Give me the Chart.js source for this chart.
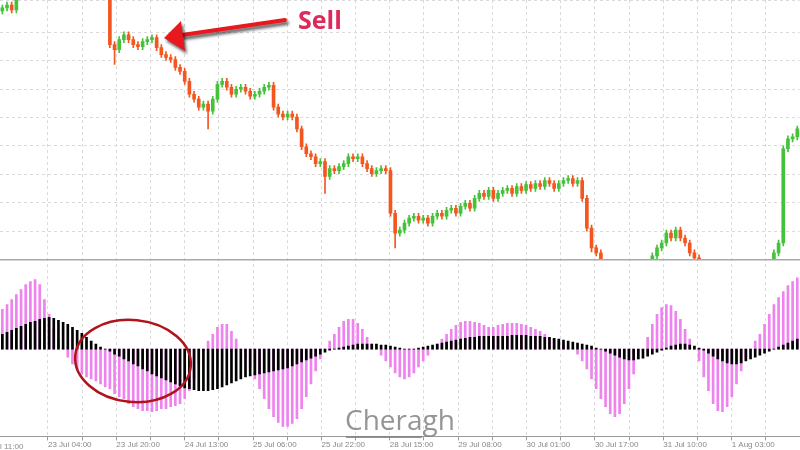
<!DOCTYPE html>
<html><head><meta charset="utf-8">
<script src="https://cdn.jsdelivr.net/npm/chart.js@4.4.1/dist/chart.umd.min.js"></script>
<style>html,body{margin:0;padding:0;background:#fff}#w{width:800px;height:450px}</style>
</head><body><div id="w"><canvas id="c"></canvas></div>
<script>
// close prices (arbitrary price units, higher = up)
const closeY = [8,5,10,-20,-30,-50,-60,-40,-50,-45,
-60,-55,-50,-40,-45,-35,-30,-40,-30,-25,
-20,-15,-5,45,50,40,35,40,45,47,
42,40,38,48,55,58,60,68,72,82,
95,100,108,105,112,100,85,82,88,95,
90,88,92,97,95,92,88,86,108,115,
118,115,118,130,148,155,158,165,163,178,
170,172,168,165,158,160,158,165,170,175,
172,170,172,215,235,232,225,220,218,222,
220,225,218,215,218,212,210,215,208,205,
210,200,195,198,192,200,195,192,190,195,
188,192,186,190,185,188,182,185,190,185,
182,180,185,182,200,230,250,255,280,300,
310,305,300,295,300,290,285,280,270,258,
250,245,235,240,232,240,245,255,260,280,
300,310,320,315,310,305,300,295,290,285,
280,275,272,270,265,255,245,150,140,138,130];
const closes = closeY.map(v => 262 - v);
// extra long lower wicks (candle index -> low price)
const longLows = {24:197, 44:132, 69:67, 84:12, 126:8, 127:4};
const histValues = [40,45,50,55,60,65,68,70,65,50,
35,20,10,0,-8,-15,-20,-25,-28,-30,
-32,-35,-38,-40,-45,-48,-50,-55,-58,-60,
-62,-62,-63,-62,-60,-60,-58,-57,-55,-50,
-42,-30,-15,-2,8,15,22,25,25,18,
10,0,-8,-18,-30,-40,-50,-60,-68,-74,
-78,-78,-75,-70,-60,-48,-35,-22,-10,0,
8,15,22,28,30,30,26,20,12,5,
0,-6,-12,-18,-24,-28,-30,-28,-24,-18,
-12,-6,0,5,10,15,20,24,27,28,
28,27,26,24,22,22,24,25,26,26,
26,25,24,22,20,18,15,12,10,8,
5,2,0,-5,-12,-20,-30,-40,-50,-58,
-65,-68,-65,-55,-40,-25,-10,0,12,25,
35,42,45,44,38,30,20,10,0,-12,
-28,-42,-55,-62,-63,-58,-48,-35,-22,-10,
0,8,15,25,35,45,52,58,64,68,72];
const signalValues = [15,17,19,21,23,25,27,28,30,31,
32,31,29,27,25,22,19,16,12,8,
5,2,0,-2,-5,-7,-10,-12,-15,-17,
-20,-22,-25,-27,-29,-31,-33,-35,-37,-39,
-40,-41,-42,-42,-42,-41,-40,-38,-36,-34,
-32,-30,-28,-27,-26,-25,-24,-23,-22,-21,
-20,-19,-17,-15,-13,-11,-9,-7,-5,-3,
-1,0,1,2,3,4,5,5,5,5,
5,4,4,3,2,1,0,0,0,1,
2,3,4,5,6,7,8,9,10,11,
12,12,13,13,13,13,13,13,13,14,
14,14,14,13,13,13,12,12,11,10,
9,8,7,6,5,4,3,1,0,-2,
-4,-6,-8,-10,-11,-11,-10,-9,-7,-5,
-3,-1,1,3,4,5,5,4,3,1,
-1,-4,-7,-10,-12,-14,-15,-15,-14,-12,
-10,-8,-6,-4,-2,0,2,4,6,8,10];
const tickLabels = ["22 Jul 11:00","23 Jul 04:00","23 Jul 20:00","24 Jul 13:00","25 Jul 06:00","25 Jul 22:00","28 Jul 15:00","29 Jul 08:00","30 Jul 01:00","30 Jul 17:00","31 Jul 10:00","1 Aug 03:00"];

const N = closes.length;
const opens = closes.map((c,i)=> i===0 ? c-3 : closes[i-1]);
const body=[], wick=[], cols=[];
for(let i=0;i<N;i++){
  const o=opens[i], c=closes[i];
  let hi=Math.max(o,c)+3, lo=Math.min(o,c)-3;
  if(longLows[i]!==undefined) lo=longLows[i];
  body.push({x:i,y:[o,c===o?c+1:c]});
  wick.push({x:i,y:[lo,hi]});
  cols.push(c>=o?'#46c23a':'#f4561f');
}
const hist = histValues.map((v,i)=>({x:i,y:v}));
const sig = signalValues.map((v,i)=>({x:i,y:v}));
const step=7.31, first=9.76;

const annot={id:'annot',afterDraw(ch){
  const g=ch.ctx; g.save();
  const sy=ch.scales.y.bottom;
  g.strokeStyle='#a8a8a8'; g.lineWidth=1.5;
  g.beginPath(); g.moveTo(0,sy); g.lineTo(800,sy); g.stroke();
  g.fillStyle='#888'; g.font='8px "Liberation Sans", sans-serif'; g.textBaseline='alphabetic';
  g.fillText('l 11:00',0,449);
  // arrow
  g.shadowColor='rgba(0,0,0,0.6)'; g.shadowBlur=3; g.shadowOffsetX=2; g.shadowOffsetY=3;
  g.strokeStyle='#e8181e'; g.fillStyle='#e8181e'; g.lineWidth=4; g.lineCap='round';
  g.beginPath(); g.moveTo(285,20); g.lineTo(182,35); g.stroke();
  g.beginPath(); g.moveTo(164,38); g.lineTo(181,21); g.lineTo(185,51); g.closePath(); g.fill();
  g.shadowColor='transparent';
  g.fillStyle='#dc2a5a'; g.font='bold 25px "Open Sans", sans-serif'; g.textBaseline='middle';
  g.fillText('Sell',298,22);
  // ellipse
  g.strokeStyle='#b0141a'; g.lineWidth=2.5;
  g.beginPath(); g.ellipse(133,361,58,41,0.1,0,Math.PI*2); g.stroke();
  // watermark
  g.fillStyle='rgba(130,130,130,0.85)'; g.font='28px "Open Sans", sans-serif';
  g.fillText('Cheragh',345,422);
  g.fillRect(346,436,76,2);
  g.restore();
}};

new Chart(document.getElementById('c'),{
  data:{datasets:[
    {type:'bar',data:wick,xAxisID:'x',yAxisID:'y',backgroundColor:cols,barThickness:1,grouped:false,order:2},
    {type:'bar',data:body,xAxisID:'x',yAxisID:'y',backgroundColor:cols,barThickness:3,grouped:false,order:1},
    {type:'bar',data:hist,xAxisID:'x',yAxisID:'y2',backgroundColor:'#ee82ee',barThickness:2,grouped:false,order:4},
    {type:'bar',data:sig,xAxisID:'x',yAxisID:'y2',backgroundColor:'#000',barThickness:2,grouped:false,order:3}
  ]},
  options:{responsive:true,maintainAspectRatio:false,animation:false,
    layout:{padding:0},
    plugins:{legend:{display:false},tooltip:{enabled:false}},
    scales:{
      x:{type:'linear',min:-0.5,max:N-0.5,offset:false,
        afterBuildTicks(ax){const t=[];for(let v=first;v<N;v+=step)t.push({value:v});ax.ticks=t;},
        grid:{offset:false,color:'#dadada',drawTicks:true,tickLength:4,tickColor:'#999'},
        border:{color:'#999',dash:[3,3]},
        ticks:{autoSkip:false,maxRotation:0,align:'start',padding:0,color:'#888',font:{size:8,family:'"Liberation Sans", sans-serif'},
          callback(v,i){return i%2===0? tickLabels[i/2+1]||'':'';}}},
      y2:{type:'linear',min:-88,max:90,stack:'p',stackWeight:178,position:'left',
        afterFit(s){s.width=0;},
        ticks:{display:false},border:{display:false},
        grid:{display:false}},
      y:{type:'linear',min:0,max:262,stack:'p',stackWeight:262,position:'left',
        afterFit(s){s.width=0;},
        ticks:{display:false,stepSize:28.7},border:{display:false,dash:[3,3]},
        grid:{color:'#dadada',drawTicks:false}}
    }
  },
  plugins:[annot]
});
</script></body></html>
